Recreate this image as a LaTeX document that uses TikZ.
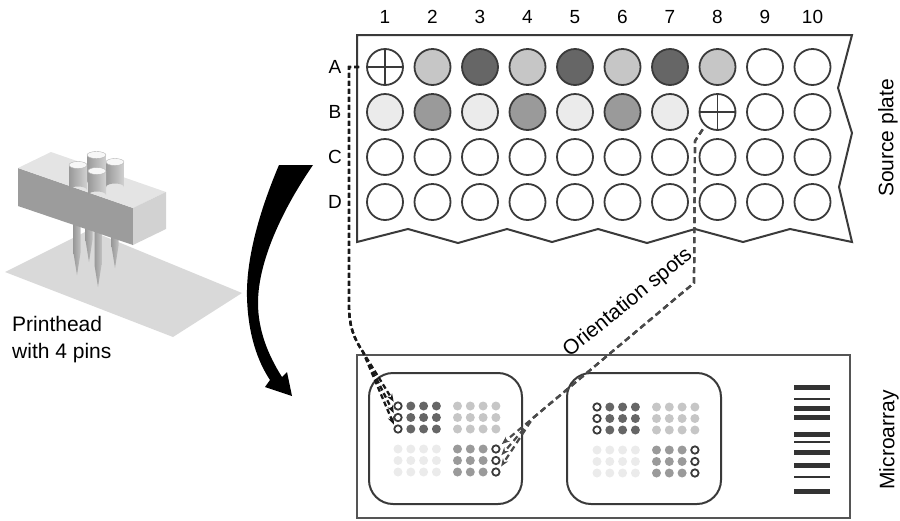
\documentclass[tikz,border=0pt]{standalone}
\usepackage{fontspec}
\setmainfont{Liberation Sans}
\usetikzlibrary{arrows.meta,calc}

\definecolor{inkline}{HTML}{3A3A3A}
\definecolor{wellL}{HTML}{C6C6C6}
\definecolor{wellD}{HTML}{666666}
\definecolor{wellM}{HTML}{9A9A9A}
\definecolor{wellV}{HTML}{EBEBEB}
\definecolor{frameline}{HTML}{555555}
\definecolor{barc}{HTML}{333333}
\definecolor{planec}{HTML}{D9D9D9}
\definecolor{frontc}{HTML}{9C9C9C}
\definecolor{topc}{HTML}{E4E4E4}
\definecolor{sidec}{HTML}{D2D2D2}
\definecolor{routeR}{HTML}{4A4A4A}

\begin{document}
\begin{tikzpicture}[x=1pt,y=-1pt,
  lab/.style={font=\fontsize{19}{22}\selectfont, inner sep=0pt},
  biglab/.style={font=\fontsize{21}{27}\selectfont, inner sep=0pt},
  well/.style={circle, draw=inkline, line width=1.8pt, minimum size=36pt, inner sep=0pt},
  spot/.style={circle, minimum size=9pt, inner sep=0pt},
  ring/.style={circle, draw=inkline, line width=1.8pt, fill=white, minimum size=7.4pt, inner sep=0pt},
  routeL/.style={line width=2.3pt, draw=black!90, dash pattern=on 5pt off 3pt,
                 -{Stealth[length=8pt,width=6pt]}},
  routeRs/.style={line width=2.2pt, draw=routeR, dash pattern=on 6pt off 4pt,
                 -{Stealth[length=8pt,width=6pt,fill=black]}},
  pinshade/.style={left color=black!40, middle color=white, right color=black!25},
  cylshade/.style={left color=black!40, middle color=white, right color=black!18}
]
\useasboundingbox (0,0) rectangle (900,520);

% ---------- printhead ----------
\fill[planec] (5,272) -- (89,230) -- (242,293) -- (173,337) -- cycle;
% pins under the block
\foreach \px/\tip in {77/275, 89/262, 115/268, 98/287}{
  \shade[pinshade] (\px-3.5,215) -- (\px+3.5,215) -- (\px+3.5,\tip-22) -- (\px,\tip) -- (\px-3.5,\tip-22) -- cycle;
}
% block
\fill[frontc] (18,168) -- (133,208) -- (133,245) -- (18,206) -- cycle;
\fill[topc] (18,168) -- (51,152) -- (166,192) -- (133,208) -- cycle;
\fill[sidec] (133,208) -- (166,192) -- (166,229) -- (133,245) -- cycle;
% pin holders on top
\foreach \xa/\xb/\yt/\yb in {87/106/155/183, 106/124/162/187, 69/87/165/190, 88/106/171/195}{
  \shade[cylshade] (\xa,\yt) -- (\xa,\yb) arc[start angle=180,end angle=360,x radius={(\xb-\xa)/2},y radius=3.5] -- (\xb,\yt) -- cycle;
  \fill[black!3] ({(\xa+\xb)/2},\yt) ellipse[x radius={(\xb-\xa)/2}, y radius=3.5];
  \draw[black!30, line width=0.4pt] ({(\xa+\xb)/2},\yt) ellipse[x radius={(\xb-\xa)/2}, y radius=3.5];
}
\node[biglab, anchor=north west, align=left] (ph) at (12,316) {Printhead\\with 4 pins};

% ---------- curved transfer arrow ----------
\fill[black] (279,165) .. controls (262,205) and (246,255) .. (247,297)
  .. controls (248,335) and (258,362) .. (270,380) -- (265,387) -- (292,396) -- (287,372) -- (282,377)
  .. controls (268,355) and (258,330) .. (258,303)
  .. controls (258,260) and (284,207) .. (313,165) -- cycle;

% ---------- source plate ----------
\draw[inkline, line width=2pt, line join=miter]
  (357,35) -- (852,35) -- (838,88) -- (852,133) -- (839,187) -- (852,242)
  -- (790,229) -- (743,242) -- (695,229) -- (647,243) -- (598,229) -- (552,242)
  -- (507,229) -- (458,243) -- (408,229) -- (357,242) -- cycle;

\foreach \i in {1,...,10}
  \node[lab] (col\i) at (385+47.5*\i-47.5, 17) {\i};
\foreach \r/\k in {A/0,B/1,C/2,D/3}
  \node[lab] (row\r) at (335, 67+45*\k) {\r};

\foreach \fc [count=\i] in {white,wellL,wellD,wellL,wellD,wellL,wellD,wellL,white,white}
  \node[well, fill=\fc] (w-A-\i) at (385+47.5*\i-47.5, 67) {};
\foreach \fc [count=\i] in {wellV,wellM,wellV,wellM,wellV,wellM,wellV,white,white,white}
  \node[well, fill=\fc] (w-B-\i) at (385+47.5*\i-47.5, 112) {};
\foreach \i in {1,...,10}{
  \node[well, fill=white] (w-C-\i) at (385+47.5*\i-47.5, 157) {};
  \node[well, fill=white] (w-D-\i) at (385+47.5*\i-47.5, 202) {};
}
\foreach \w in {w-A-1, w-B-8}{
  \draw[inkline, line width=1.8pt] (\w.north) -- (\w.south) (\w.west) -- (\w.east);
}
\node[biglab, rotate=90] (srclab) at (888,138) {Source plate};

% ---------- microarray slide ----------
\draw[frameline, line width=2pt] (357,355) rectangle (850,518);
\draw[inkline, line width=2pt, rounded corners=24pt] (369,373) rectangle (522,504);
\draw[inkline, line width=2pt, rounded corners=24pt] (567,373) rectangle (721,504);

\foreach \b/\ox/\oy in {1/398/406, 2/597/407}{
  \foreach \r in {1,2,3}{
    % top-left group, first column holds the orientation spots
    \node[ring] (s-\b-tl-\r-1) at (\ox, \oy+11.5*\r-11.5) {};
    \foreach \c in {2,3,4}
      \node[spot, fill=wellD] (s-\b-tl-\r-\c) at (\ox+12.8*\c-12.8, \oy+11.5*\r-11.5) {};
    % top-right group
    \foreach \c in {1,2,3,4}
      \node[spot, fill=wellL] (s-\b-tr-\r-\c) at (\ox+59.5+12.8*\c-12.8, \oy+11.5*\r-11.5) {};
    % bottom-left group
    \foreach \c in {1,2,3,4}
      \node[spot, fill=wellV] (s-\b-bl-\r-\c) at (\ox+12.8*\c-12.8, \oy+43+11.5*\r-11.5) {};
    % bottom-right group, last column holds the orientation spots
    \foreach \c in {1,2,3}
      \node[spot, fill=wellM] (s-\b-br-\r-\c) at (\ox+59.5+12.8*\c-12.8, \oy+43+11.5*\r-11.5) {};
    \node[ring] (s-\b-br-\r-4) at (\ox+59.5+38.4, \oy+43+11.5*\r-11.5) {};
  }
}

% barcode
\foreach \y/\h in {387/5, 399/2.6, 408/5, 417/5, 434/5, 442/2.6, 452/5, 465/5, 477/2.6, 491/5}
  \fill[barc] (794,\y-\h/2) rectangle (830,\y+\h/2);

\node[biglab, rotate=90] (malab) at (889,440) {Microarray};

% ---------- routes from the marked wells to the orientation spots ----------
\coordinate (bendL) at (349,305);
\coordinate (splitL) at (363,352);
\foreach \r in {1,2,3}
  \draw[routeL, shorten <=7pt, shorten >=1.5pt] (w-A-1.west) -| (bendL)
    .. controls (349,328) and (355,340) .. (splitL) -- (s-1-tl-\r-1.140);

\coordinate (topR) at (695,141);
\coordinate (bendR) at (694,283);
\coordinate (splitR) at (533,418);
\foreach \r in {1,2,3}
  \draw[routeRs, shorten <=4pt, shorten >=3pt] (w-B-8.228) -- (topR) -- (bendR) -- (splitR) -- (s-1-br-\r-4.40);

\node[biglab, rotate=39] (orilab) at (628,303) {Orientation spots};
\end{tikzpicture}
\end{document}
